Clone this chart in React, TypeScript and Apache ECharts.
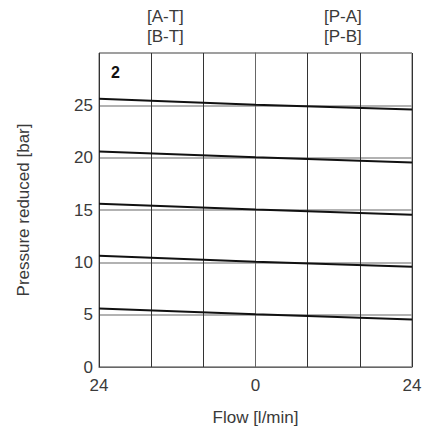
import React, { useEffect, useRef } from "react";
import * as echarts from "echarts";

const flowPoints = [-24, 0, 24];
const line5 = [5.6, 5.05, 4.55];
const line10 = [10.62, 10.06, 9.58];
const line15 = [15.6, 15.05, 14.55];
const line20 = [20.6, 20.05, 19.55];
const line25 = [25.62, 25.05, 24.6];
const curves = [line5, line10, line15, line20, line25];
const xTickLabels: Record<number, string> = { [-24]: "24", 0: "0", 24: "24" };
const yHiddenTick = 30;

const FONT = "Liberation Sans, Arial, sans-serif";
const TEXT = "#3a3a3a";

export default function App() {
  const ref = useRef<HTMLDivElement>(null);
  useEffect(() => {
    if (!ref.current) return;
    const chart = echarts.init(ref.current, null, { renderer: "svg" });
    chart.setOption({
      animation: false,
      grid: {
        left: 99,
        right: 17,
        top: 53,
        bottom: 60,
        show: true,
        borderColor: "#666",
        borderWidth: 1,
        backgroundColor: "transparent",
        containLabel: false,
        outerBoundsMode: "none",
      },
      xAxis: {
        type: "value",
        min: -24,
        max: 24,
        interval: 8,
        name: "Flow [l/min]",
        nameLocation: "middle",
        nameGap: 42,
        nameTextStyle: { fontFamily: FONT, fontSize: 17, color: TEXT },
        axisLine: { show: true, lineStyle: { color: "#666", width: 1 } },
        axisTick: { show: false },
        axisLabel: {
          fontFamily: FONT,
          fontSize: 17,
          color: TEXT,
          margin: 10,
          formatter: (v: number) => xTickLabels[v] ?? "",
        },
        splitLine: { show: true, lineStyle: { color: "#333", width: 1 } },
      },
      yAxis: {
        type: "value",
        min: 0,
        max: 30,
        interval: 5,
        name: "Pressure reduced [bar]",
        nameLocation: "middle",
        nameGap: 67,
        nameTextStyle: { fontFamily: FONT, fontSize: 17, color: TEXT },
        axisLine: { show: true, lineStyle: { color: "#666", width: 1 } },
        axisTick: { show: false },
        axisLabel: {
          fontFamily: FONT,
          fontSize: 17,
          color: TEXT,
          margin: 6,
          formatter: (v: number) => (v === yHiddenTick ? "" : String(v)),
        },
        splitLine: { show: true, lineStyle: { color: "#999", width: 1.5 } },
      },
      series: curves.map((c) => ({
        type: "line",
        data: flowPoints.map((x, i) => [x, c[i]]),
        showSymbol: false,
        smooth: false,
        lineStyle: { color: "#111", width: 2 },
        z: 5,
      })),
      graphic: [
        { type: "text", left: 147, top: 6, style: { text: "[A-T]\n[B-T]", font: `17px ${FONT}`, fill: TEXT, lineHeight: 20, align: "center" } },
        { type: "text", left: 324, top: 6, style: { text: "[P-A]\n[P-B]", font: `17px ${FONT}`, fill: TEXT, lineHeight: 20, align: "center" } },
        { type: "text", left: 111, top: 64, style: { text: "2", font: `bold 16px ${FONT}`, fill: "#111" } },
      ],
    });
    return () => chart.dispose();
  }, []);
  return <div ref={ref} style={{ width: 429, height: 427, position: "absolute", left: 0, top: 0 }} />;
}
